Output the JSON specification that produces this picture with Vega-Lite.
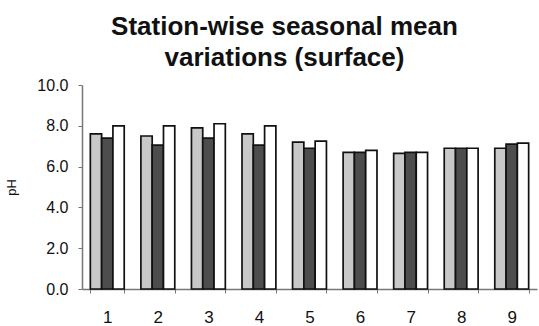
{
  "$schema": "https://vega.github.io/schema/vega-lite/v6.json",
  "width": 455,
  "height": 204,
  "autosize": {"type": "none"},
  "padding": {"left": 82, "top": 85, "right": 2, "bottom": 37},
  "background": "white",
  "config": {
    "view": {"stroke": null},
    "font": "Liberation Sans"
  },
  "title": {
    "text": ["Station-wise seasonal mean", "variations (surface)"],
    "font": "Liberation Sans",
    "fontSize": 26,
    "fontWeight": "bold",
    "color": "#111",
    "lineHeight": 31,
    "anchor": "middle",
    "frame": "group",
    "dx": -25,
    "offset": 6
  },
  "data": {
    "values": [
      {"station": "1", "season": "A", "ph": 7.6},
      {"station": "1", "season": "B", "ph": 7.4},
      {"station": "1", "season": "C", "ph": 8.0},
      {"station": "2", "season": "A", "ph": 7.5},
      {"station": "2", "season": "B", "ph": 7.05},
      {"station": "2", "season": "C", "ph": 8.0},
      {"station": "3", "season": "A", "ph": 7.9},
      {"station": "3", "season": "B", "ph": 7.4},
      {"station": "3", "season": "C", "ph": 8.1},
      {"station": "4", "season": "A", "ph": 7.6},
      {"station": "4", "season": "B", "ph": 7.05},
      {"station": "4", "season": "C", "ph": 8.0},
      {"station": "5", "season": "A", "ph": 7.2},
      {"station": "5", "season": "B", "ph": 6.9},
      {"station": "5", "season": "C", "ph": 7.25},
      {"station": "6", "season": "A", "ph": 6.7},
      {"station": "6", "season": "B", "ph": 6.7},
      {"station": "6", "season": "C", "ph": 6.8},
      {"station": "7", "season": "A", "ph": 6.65},
      {"station": "7", "season": "B", "ph": 6.7},
      {"station": "7", "season": "C", "ph": 6.7},
      {"station": "8", "season": "A", "ph": 6.9},
      {"station": "8", "season": "B", "ph": 6.9},
      {"station": "8", "season": "C", "ph": 6.9},
      {"station": "9", "season": "A", "ph": 6.9},
      {"station": "9", "season": "B", "ph": 7.1},
      {"station": "9", "season": "C", "ph": 7.15}
    ]
  },
  "mark": {"type": "bar", "stroke": "#111", "strokeWidth": 1.7},
  "encoding": {
    "x": {
      "field": "station",
      "type": "nominal",
      "scale": {"paddingInner": 0.33, "paddingOuter": 0.165},
      "axis": {
        "title": null,
        "labelAngle": 0,
        "labelFont": "Liberation Sans",
        "labelFontSize": 17,
        "labelColor": "#111",
        "labelPadding": 16,
        "tickBand": "extent",
        "tickSize": 4,
        "tickColor": "#777",
        "domainColor": "#777",
        "domainWidth": 1.5
      }
    },
    "xOffset": {"field": "season", "type": "nominal", "scale": {"paddingInner": 0, "paddingOuter": 0}},
    "y": {
      "field": "ph",
      "type": "quantitative",
      "scale": {"domain": [0, 10], "nice": false},
      "axis": {
        "title": "pH",
        "titleFont": "Liberation Sans",
        "titleFontSize": 13,
        "titleFontWeight": "normal",
        "titleColor": "#111",
        "titlePadding": 18,
        "values": [0, 2, 4, 6, 8, 10],
        "format": ".1f",
        "grid": false,
        "labelFont": "Liberation Sans",
        "labelFontSize": 16,
        "labelColor": "#111",
        "labelPadding": 10,
        "tickSize": 4,
        "tickColor": "#777",
        "domainColor": "#777",
        "domainWidth": 1.5
      }
    },
    "fill": {
      "field": "season",
      "type": "nominal",
      "scale": {"domain": ["A", "B", "C"], "range": ["#c8c8c8", "#4d4d4d", "#ffffff"]},
      "legend": null
    }
  }
}
